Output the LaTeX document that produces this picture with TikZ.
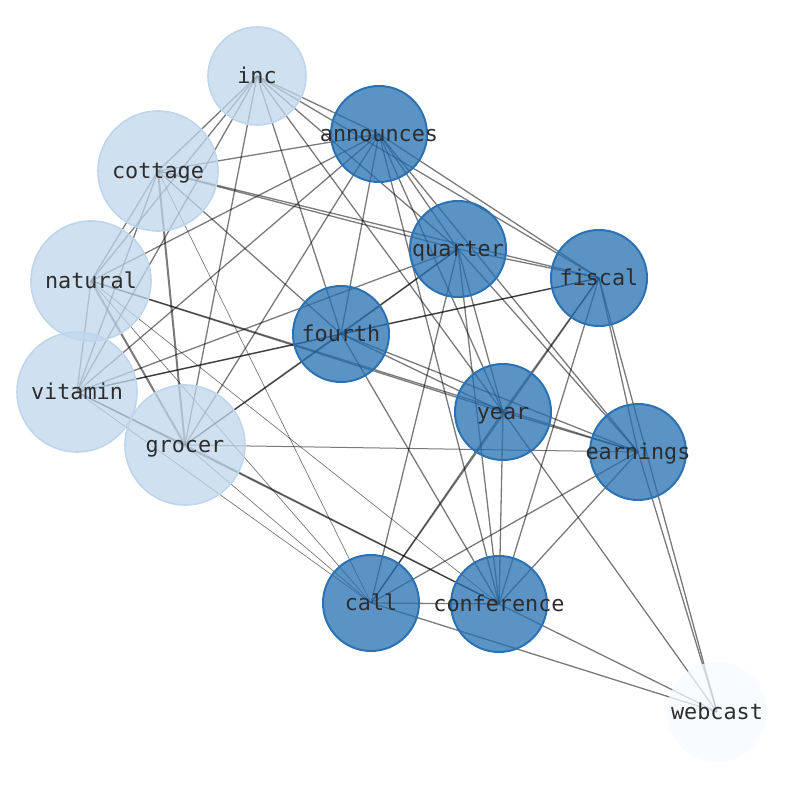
\documentclass[tikz,border=0pt]{standalone}
\usepackage{fontspec}
\setmonofont{DejaVu Sans Mono}
\usetikzlibrary{backgrounds}

\definecolor{hotfill}{RGB}{36,111,178}
\definecolor{hotline}{RGB}{44,114,178}
\definecolor{coolfill}{RGB}{191,214,235}
\definecolor{coolline}{RGB}{190,213,235}
\definecolor{palefill}{RGB}{245,250,255}
\definecolor{inkgray}{RGB}{45,45,45}

\begin{document}
\begin{tikzpicture}[x=0.5pt,y=-0.5pt,
  word/.style={circle,inner sep=0pt,fill opacity=0.75},
  hot/.style={word,minimum size=48pt,line width=1pt,fill=hotfill,draw=hotline},
  cool/.style={word,minimum size=60pt,line width=0.8pt,fill=coolfill,draw=coolline},
  coolsmall/.style={cool,minimum size=49pt},
  pale/.style={word,minimum size=50pt,fill=palefill,draw=none},
  tag/.style={inner sep=0pt,text height=7.5pt,text depth=0pt,text=inkgray,
    font=\ttfamily\fontsize{10.9}{13}\selectfont},
  link/.style={draw=black,draw opacity=0.52,line width=0.65pt},
  faint/.style={link,line width=0.35pt},
  heavy/.style={link,line width=1pt}]
\useasboundingbox (0,0) rectangle (794,790);

% Word nodes (pixel positions of the layout).
\node[coolsmall] (inc) at (257,76) {};
\node[cool] (cottage) at (158,171) {};
\node[cool] (natural) at (91,281) {};
\node[cool] (vitamin) at (77,392) {};
\node[cool] (grocer) at (185,445) {};
\node[hot] (announces) at (379,134) {};
\node[hot] (quarter) at (458,249) {};
\node[hot] (fiscal) at (599,278) {};
\node[hot] (fourth) at (341,334) {};
\node[hot] (year) at (503,412) {};
\node[hot] (earnings) at (638,452) {};
\node[hot] (call) at (371,603) {};
\node[hot] (conference) at (499,604) {};
\node[pale] (webcast) at (717,712) {};

% Co-occurrence links, drawn under the translucent nodes.
\begin{scope}[on background layer]
% company words
\foreach \a/\b in {inc/cottage,inc/natural,inc/vitamin,inc/grocer,
  cottage/natural,cottage/vitamin,natural/vitamin,vitamin/grocer}
  \draw[link] (\a.center) -- (\b.center);
\foreach \a/\b in {cottage/grocer,natural/grocer}
  \draw[heavy] (\a.center) -- (\b.center);
% report words
\foreach \a/\b in {announces/quarter,announces/fiscal,announces/fourth,
  announces/year,announces/earnings,announces/conference,
  quarter/fiscal,quarter/fourth,quarter/year,quarter/earnings,
  quarter/call,quarter/conference,fiscal/fourth,fiscal/year,
  fiscal/earnings,fiscal/call,fiscal/conference,fourth/year,
  fourth/earnings,fourth/conference,year/earnings,year/call,
  year/conference,earnings/call,earnings/conference,call/conference}
  \draw[link] (\a.center) -- (\b.center);
% webcast
\foreach \a in {fiscal,earnings,year,conference,call}
  \draw[link] (\a.center) -- (webcast.center);
% company words to report words
\foreach \a/\b in {inc/announces,inc/quarter,inc/fiscal,inc/fourth,inc/year,
  cottage/announces,cottage/quarter,cottage/fiscal,cottage/fourth,
  natural/announces,natural/year,natural/earnings,
  vitamin/announces,vitamin/quarter,vitamin/fourth,vitamin/fiscal,
  vitamin/conference,grocer/announces,grocer/quarter,grocer/fourth,
  grocer/conference}
  \draw[link] (\a.center) -- (\b.center);
\foreach \a/\b in {cottage/call,natural/call,vitamin/call,
  grocer/call,natural/conference}
  \draw[faint] (\a.center) -- (\b.center);
\draw[link,line width=0.5pt] (grocer.center) -- (earnings.center);
\end{scope}

% Labels.
\foreach \w in {inc,cottage,natural,vitamin,grocer,announces,quarter,fiscal,
  fourth,year,earnings,call,conference,webcast}
  \node[tag] (\w-t) at (\w) {\w};

\end{tikzpicture}
\end{document}
